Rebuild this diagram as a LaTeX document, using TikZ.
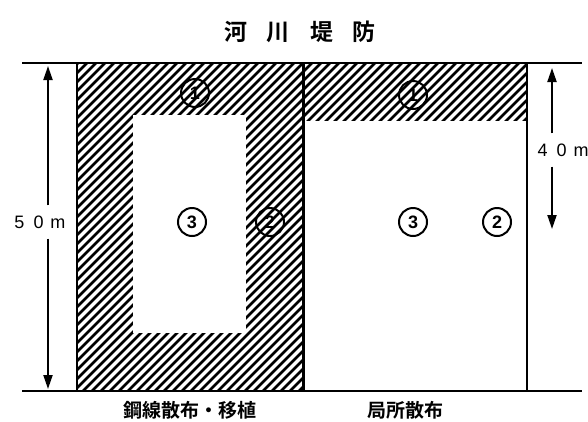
\documentclass[tikz,border=0pt]{standalone}
\usepackage{fontspec}
\setmainfont{Liberation Sans}
\newfontfamily\cjk{Noto Sans CJK JP}[BoldFont={Noto Sans CJK JP Bold}]
\usetikzlibrary{arrows.meta}
\begin{document}
\begin{tikzpicture}[x=1pt,y=-1pt,
  frame/.style={line width=2.4pt},
  hatchline/.style={line width=2.7pt},
  num/.style={circle,draw,line width=2pt,minimum size=28pt,inner sep=0pt,font=\fontsize{18}{18}\selectfont\bfseries},
  dim/.style={line width=2pt,-{Triangle[length=14pt,width=9pt]}},
  dimlabel/.style={font=\fontsize{18}{18}\selectfont, inner xsep=0pt, inner ysep=10pt},
  caption/.style={font=\cjk\bfseries\fontsize{19}{19}\selectfont, inner sep=0pt},
  titlestyle/.style={font=\cjk\bfseries\fontsize{23}{23}\selectfont, inner sep=0pt}
]
\useasboundingbox (0,0) rectangle (588,421);
% hatching of the left plot
\begin{scope}
  \clip (77,63) rectangle (303,391);
  \foreach \k in {-340,-331,...,320} \draw[hatchline] (\k,400) -- (\k+400,0);
\end{scope}
\fill[white] (133,115) rectangle (246,333);
% hatching of the right plot (top band)
\begin{scope}
  \clip (303,63) rectangle (527,120);
  \foreach \k in {-340,-331,...,560} \draw[hatchline] (\k,400) -- (\k+400,0);
\end{scope}
% corner coordinates
\coordinate (tl) at (22,63);
\coordinate (tr) at (582,63);
\coordinate (bl) at (22,391);
\coordinate (br) at (582,391);
\coordinate (l1t) at (77,63);
\coordinate (l1b) at (77,391);
\coordinate (mt) at (303,63);
\coordinate (mb) at (303,391);
\coordinate (r1t) at (527,63);
\coordinate (r1b) at (527,391);
\draw[frame] (tl) -- (tr);
\draw[frame] (bl) -- (br);
\draw[frame] (l1t) -- (l1b);
\draw[line width=3pt] (mt) -- (mb);
\draw[frame] (r1t) -- (r1b);
% title
\node[titlestyle] (title) at (300,32) {河\hspace{20pt}川\hspace{20pt}堤\hspace{20pt}防};
% circled numbers
\node[num] (n1a) at (195,93) {1};
\node[num] (n1b) at (413,95) {1};
\node[num] (n3a) at (192,222) {3};
\node[num] (n2a) at (270,222) {2};
\node[num] (n3b) at (413,222) {3};
\node[num] (n2b) at (497,222) {2};
% dimension 50 m
\coordinate (a50t) at (48,66);
\coordinate (a50b) at (48,389);
\node[dimlabel] (l50) at (40,222) {5\hspace{9pt}0\hspace{7pt}m};
\draw[dim] (l50.north -| a50t) -- (a50t);
\draw[dim] (l50.south -| a50b) -- (a50b);
% dimension 40 m
\coordinate (a40t) at (552,68);
\coordinate (a40b) at (552,229);
\node[dimlabel] (l40) at (563,150) {4\hspace{9pt}0\hspace{7pt}m};
\draw[dim] (l40.north -| a40t) -- (a40t);
\draw[dim] (l40.south -| a40b) -- (a40b);
% captions
\node[caption] (capl) at (190,410) {鋼線散布・移植};
\node[caption] (capr) at (405,410) {局所散布};
\end{tikzpicture}
\end{document}
